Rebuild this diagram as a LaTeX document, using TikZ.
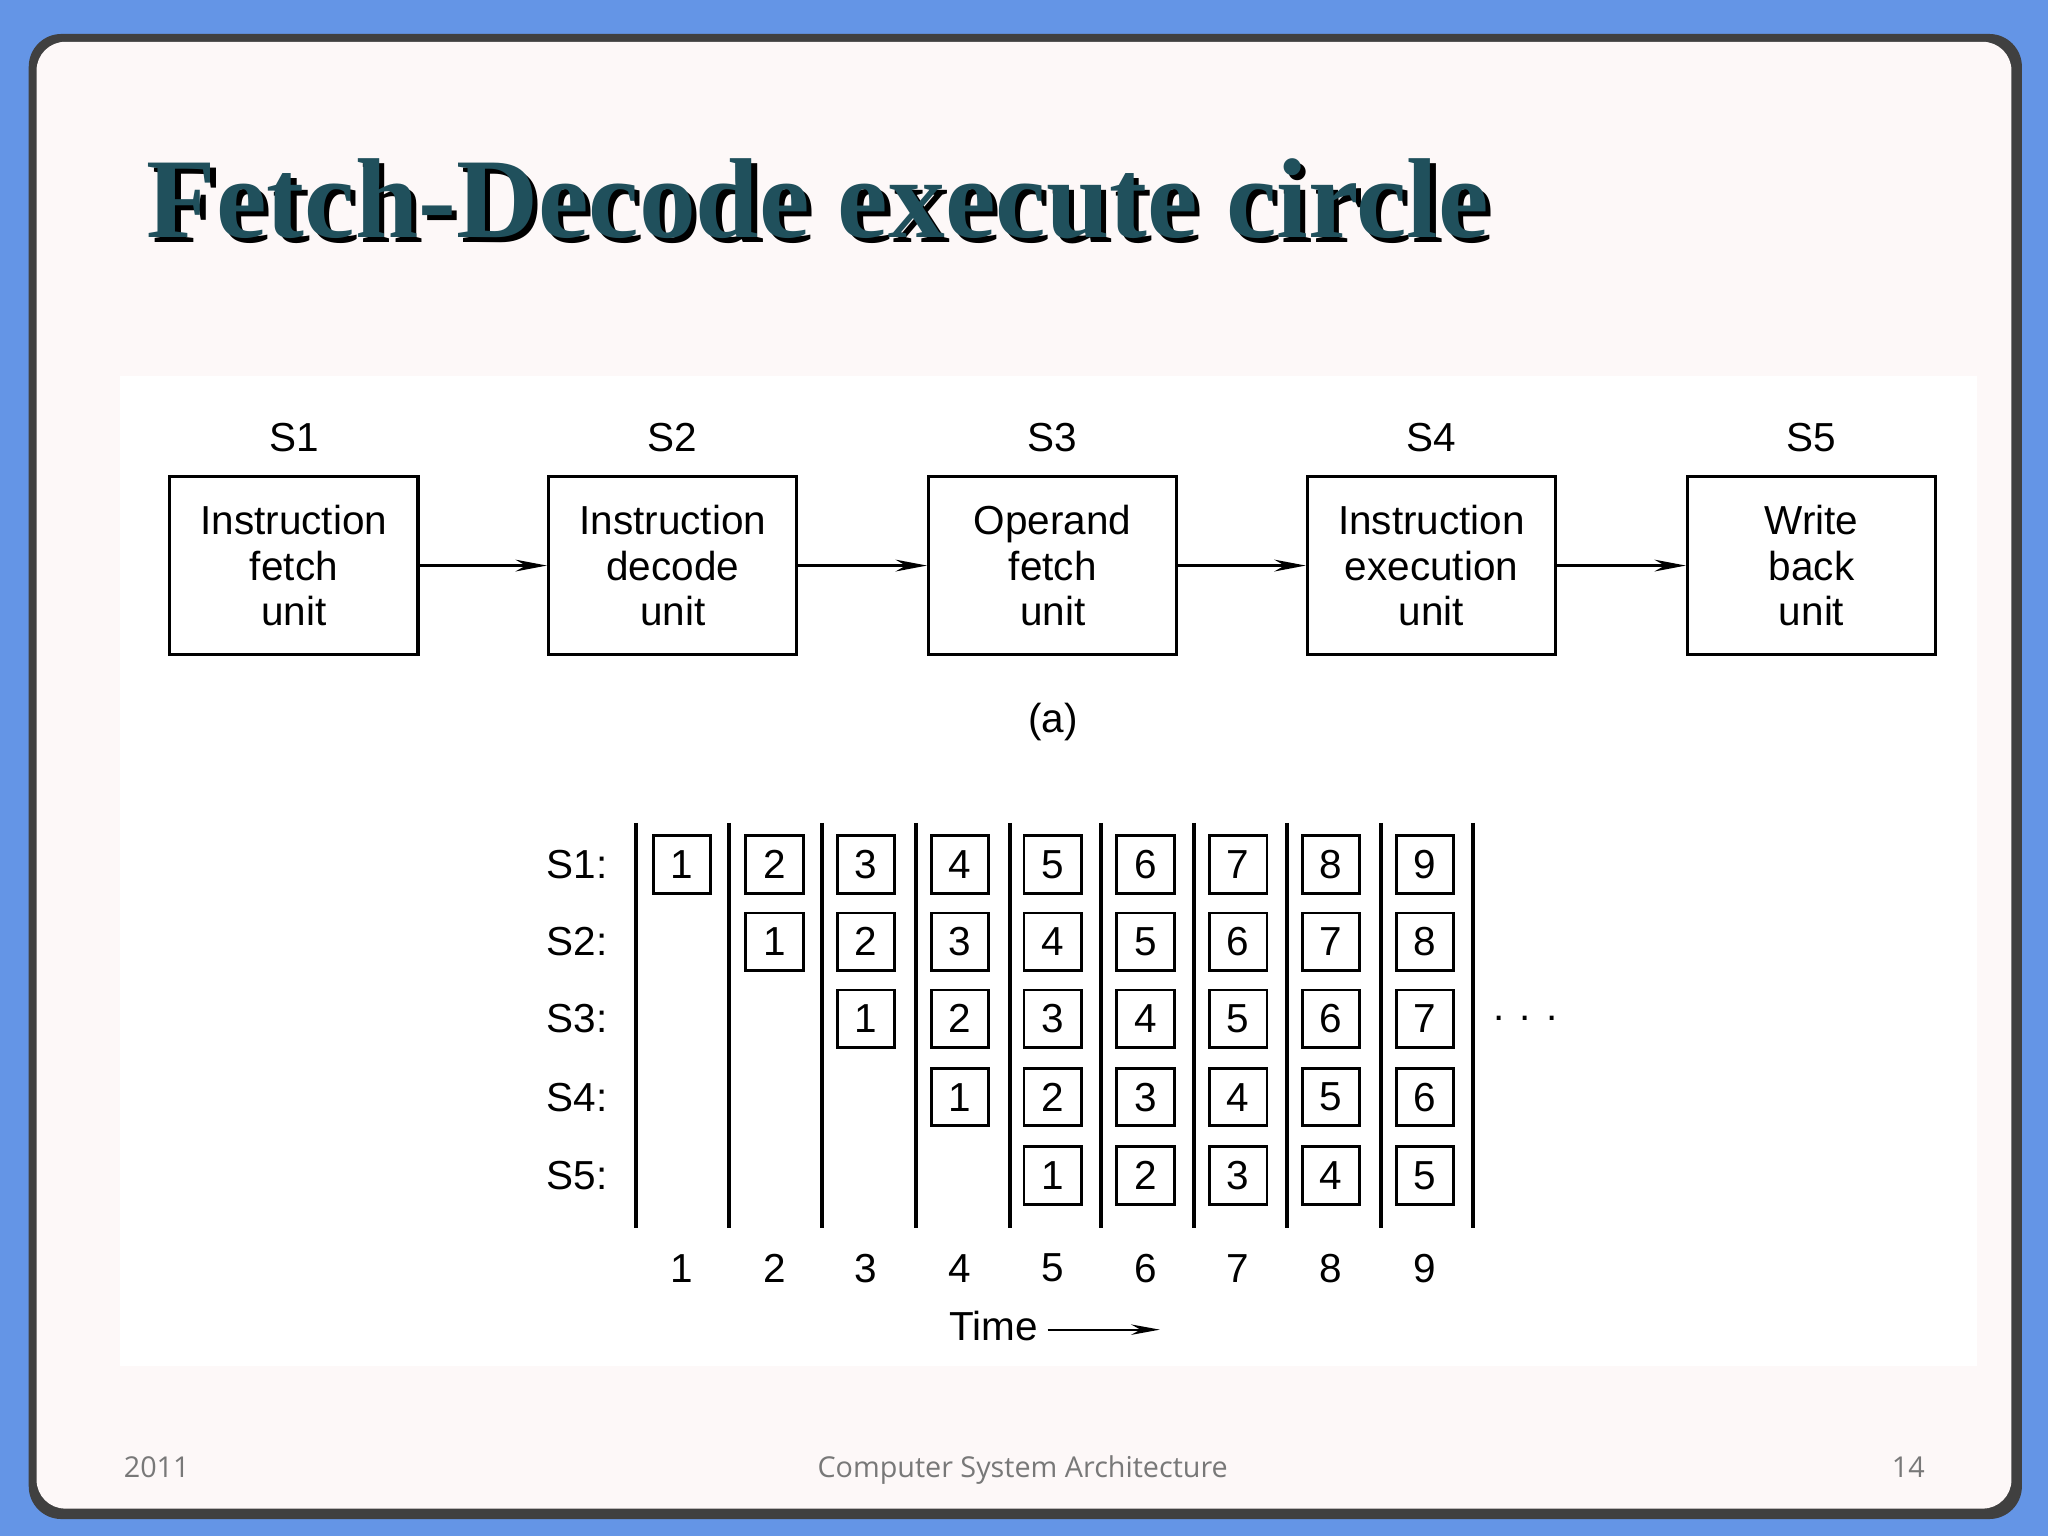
\documentclass[tikz,border=0pt]{standalone}
\usepackage{fontspec}
\setmainfont{Liberation Sans}
\newfontfamily\titlefont{Liberation Serif}
\newfontfamily\footfont{Open Sans}
\usetikzlibrary{arrows.meta}
\definecolor{bgblue}{RGB}{100,149,230}
\definecolor{slide}{RGB}{253,248,248}
\definecolor{titlec}{RGB}{32,80,92}
\definecolor{footc}{RGB}{120,120,120}
\tikzset{
  unitbox/.style={draw,line width=2.5pt,minimum width=190pt,minimum height=136pt,align=center,font=\fontsize{31}{35}\selectfont},
  lbl/.style={font=\fontsize{31}{35}\selectfont},
  cell/.style={draw,line width=2.2pt,minimum width=44pt,minimum height=44pt,inner sep=0pt,font=\fontsize{31}{35}\selectfont},
  flow/.style={line width=2.5pt,-{Stealth[length=24pt,width=9pt]}},
  foot/.style={font=\footfont\fontsize{22}{24}\selectfont,text=footc,anchor=base}
}
\begin{document}
\begin{tikzpicture}[x=1pt,y=-1pt]
\useasboundingbox (0,0) rectangle (1568,1176);
\fill[bgblue] (0,0) rectangle (1568,1176);
\fill[black!75,rounded corners=25pt] (22,26) rectangle (1548,1163);
\fill[slide,rounded corners=22pt] (28,32) rectangle (1540,1155);
\fill[white] (92,288) rectangle (1514,1046);
\node[anchor=base west,font=\titlefont\bfseries\fontsize{87}{92}\selectfont,text=black] at (113,186) {Fetch-Decode execute circle};
\node[anchor=base west,font=\titlefont\bfseries\fontsize{87}{92}\selectfont,text=titlec] (title) at (109,182) {Fetch-Decode execute circle};
% pipeline
\node[unitbox] (u1) at (225,433) {Instruction\\fetch\\unit};
\node[unitbox] (u2) at (515,433) {Instruction\\decode\\unit};
\node[unitbox] (u3) at (806,433) {Operand\\fetch\\unit};
\node[unitbox] (u4) at (1096,433) {Instruction\\execution\\unit};
\node[unitbox] (u5) at (1387,433) {Write\\back\\unit};
\foreach \i in {1,...,5}{\node[lbl] (s\i) at ([yshift=98pt]u\i.center) {S\i};}
\foreach \a/\b in {u1/u2,u2/u3,u3/u4,u4/u5}{\draw[flow] (\a.east) -- (\b.west);}
\node[lbl] (cap) at (806,553) {(a)};
% grid
\foreach \x [count=\k] in {487,558,629,701,773,843,914,985,1057,1128}{
  \coordinate (t\k) at (\x,630); \coordinate (b\k) at (\x,940);
  \draw[line width=3pt] (t\k) -- (b\k);}
\foreach \r/\y in {1/662,2/721,3/780,4/840,5/900}{
  \node[lbl] (r\r) at (442,\y) {S\r:};
  \foreach \c/\x in {1/522,2/593,3/663,4/735,5/806,6/877,7/948,8/1019,9/1091}{
    \pgfmathtruncatemacro{\n}{\c-\r+1}
    \ifnum\n>0 \node[cell] (c\r-\c) at (\x,\y) {\n};\fi
  }}
\foreach \c/\x in {1/522,2/593,3/663,4/735,5/806,6/877,7/948,8/1019,9/1091}{\node[lbl] (n\c) at (\x,971) {\c};}
\node[lbl] (dots) at (1168,780) {. . .};
\node[lbl,anchor=east] (time) at (798,1015) {Time};
\coordinate (tstart) at (802,1018);
\coordinate (tend) at (888,1018);
\draw[line width=1.5pt,-{Stealth[length=22pt,width=8pt]}] (tstart) -- (tend);
% footer
\node[foot] (f1) at (120,1131) {2011};
\node[foot] (f2) at (783,1131) {Computer System Architecture};
\node[foot] (f3) at (1461,1131) {14};
\end{tikzpicture}
\end{document}
